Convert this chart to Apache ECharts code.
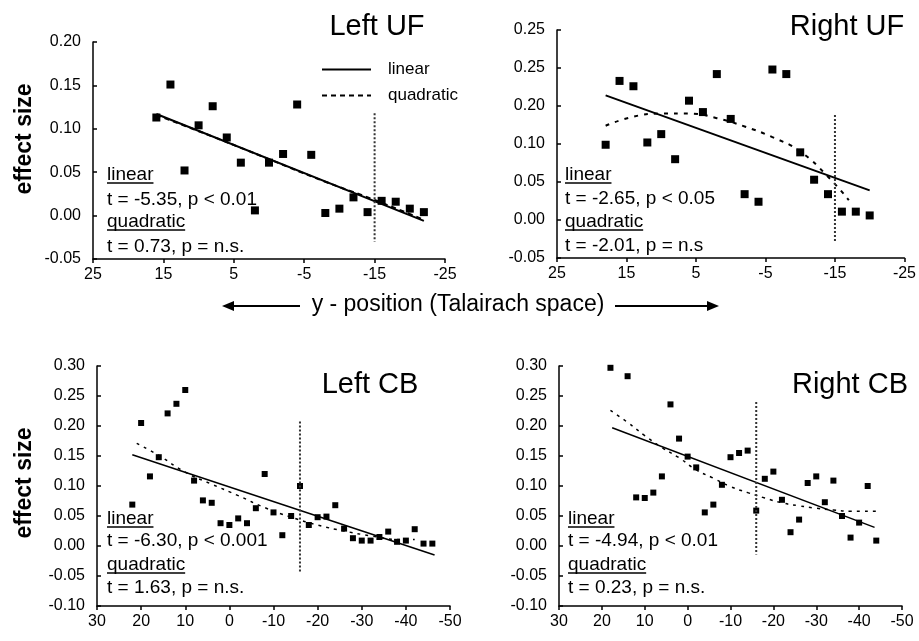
<!DOCTYPE html>
<html lang="en">
<head>
    <meta charset="UTF-8">
    <title>effect size vs y-position</title>
    <script src="https://cdn.jsdelivr.net/npm/echarts@6/dist/echarts.min.js"></script>
    <style type="text/css">
        html, body { margin: 0; padding: 0; background: #fff; }
        #chart { width: 919px; height: 641px; }
    </style>
</head>
<body>
<div id="chart"></div>
<script type="text/javascript">
    // ---- data ----
    var panelTitles = ['Left UF', 'Right UF', 'Left CB', 'Right CB'];

    // Left UF
    var leftUfX = [16, 14, 12, 10, 8, 6, 4, 2, 0, -2, -4, -6, -8, -10, -12, -14, -16, -18, -20, -22];
    var leftUfY = [0.113, 0.151, 0.052, 0.104, 0.126, 0.090, 0.061, 0.006, 0.061, 0.071, 0.128, 0.070, 0.003, 0.008, 0.021, 0.004, 0.017, 0.016, 0.008, 0.004];
    var leftUfLinX = [16, -22];
    var leftUfLinY = [0.117, -0.006];
    var leftUfQuadX = [16, 8, 0, -8, -15, -22];
    var leftUfQuadY = [0.116, 0.091, 0.065, 0.039, 0.018, -0.005];
    var leftUfCutX = -15;
    var leftUfCutY = [0.118, -0.030];

    // Right UF
    var rightUfX = [18, 16, 14, 12, 10, 8, 6, 4, 2, 0, -2, -4, -6, -8, -10, -12, -14, -16, -18, -20];
    var rightUfY = [0.099, 0.183, 0.176, 0.102, 0.113, 0.080, 0.157, 0.142, 0.192, 0.133, 0.034, 0.024, 0.198, 0.192, 0.089, 0.053, 0.034, 0.011, 0.011, 0.006];
    var rightUfLinX = [18, -20];
    var rightUfLinY = [0.164, 0.039];
    var rightUfQuadX = [18, 14, 10, 6, 2, -2, -6, -10, -14, -17];
    var rightUfQuadY = [0.124, 0.136, 0.140, 0.140, 0.134, 0.123, 0.109, 0.090, 0.057, 0.026];
    var rightUfCutX = -15;
    var rightUfCutY = [0.138, -0.030];

    // Left CB
    var leftCbX = [22, 20, 18, 16, 14, 12, 10, 8, 6, 4, 2, 0, -2, -4, -6, -8, -10, -12, -14, -16, -18, -20, -22, -24, -26, -28, -30, -32, -34, -36, -38, -40, -42, -44, -46];
    var leftCbY = [0.069, 0.205, 0.116, 0.148, 0.221, 0.237, 0.260, 0.109, 0.076, 0.072, 0.038, 0.035, 0.046, 0.038, 0.063, 0.120, 0.056, 0.018, 0.050, 0.100, 0.035, 0.048, 0.049, 0.068, 0.029, 0.013, 0.009, 0.009, 0.015, 0.024, 0.007, 0.009, 0.028, 0.004, 0.004];
    var leftCbLinX = [22, -46.5];
    var leftCbLinY = [0.152, -0.015];
    var leftCbQuadX = [21, 16, 10, 4, -2, -8, -14, -20, -26, -32, -38, -42];
    var leftCbQuadY = [0.171, 0.151, 0.123, 0.103, 0.084, 0.064, 0.048, 0.035, 0.025, 0.017, 0.011, 0.011];
    var leftCbCutX = -16;
    var leftCbCutY = [0.2075, -0.044];

    // Right CB
    var rightCbX = [18, 16, 14, 12, 10, 8, 6, 4, 2, 0, -2, -4, -6, -8, -10, -12, -14, -16, -18, -20, -22, -24, -26, -28, -30, -32, -34, -36, -38, -40, -42, -44];
    var rightCbY = [0.297, 0.301, 0.283, 0.081, 0.080, 0.089, 0.116, 0.236, 0.179, 0.149, 0.131, 0.056, 0.069, 0.102, 0.148, 0.155, 0.159, 0.059, 0.112, 0.124, 0.077, 0.023, 0.044, 0.105, 0.116, 0.073, 0.109, 0.050, 0.014, 0.039, 0.100, 0.009];
    var rightCbLinX = [17.6, -43.6];
    var rightCbLinY = [0.197, 0.031];
    var rightCbQuadX = [18, 14, 10, 6, 2, -2, -6, -10, -14, -18, -22, -26, -30, -34, -38, -44];
    var rightCbQuadY = [0.226, 0.206, 0.184, 0.164, 0.147, 0.127, 0.113, 0.099, 0.089, 0.080, 0.072, 0.067, 0.063, 0.060, 0.058, 0.058];
    var rightCbCutX = -16;
    var rightCbCutY = [0.240, -0.014];

    // tick labels (the Right UF axis is labelled like this in the original)
    var leftUfYLabels = ['-0.05', '0.00', '0.05', '0.10', '0.15', '0.20'];
    var rightUfYLabels = ['-0.05', '0.00', '0.05', '0.10', '0.20', '0.25', '0.25'];
    var cbYLabels = ['-0.10', '-0.05', '0.00', '0.05', '0.10', '0.15', '0.20', '0.25', '0.30'];

    // stats text
    var statsText = [
        ['t = -5.35, p < 0.01', 't = 0.73, p = n.s.'],
        ['t = -2.65, p < 0.05', 't = -2.01, p = n.s'],
        ['t = -6.30, p < 0.001', 't = 1.63, p = n.s.'],
        ['t = -4.94, p < 0.01', 't = 0.23, p = n.s.']
    ];

    // ---- layout ----
    var FONT = "'Liberation Sans', Arial, sans-serif";
    var grids = [
        {left: 93, right: 474, top: 42, bottom: 382},
        {left: 557, right: 9, top: 30, bottom: 383},
        {left: 97, right: 469, top: 366, bottom: 35},
        {left: 559, right: 17, top: 366, bottom: 35}
    ];
    var xRanges = [[-25, 25], [-25, 25], [-50, 30], [-50, 30]];
    var yRanges = [[-0.05, 0.20], [-0.05, 0.25], [-0.10, 0.30], [-0.10, 0.30]];
    var yLabelSets = [leftUfYLabels, rightUfYLabels, cbYLabels, cbYLabels];

    var panels = [
        {x: leftUfX, y: leftUfY, lx: leftUfLinX, ly: leftUfLinY, qx: leftUfQuadX, qy: leftUfQuadY, cx: leftUfCutX, cy: leftUfCutY, size: 8, lw: 2, dash: [5, 4]},
        {x: rightUfX, y: rightUfY, lx: rightUfLinX, ly: rightUfLinY, qx: rightUfQuadX, qy: rightUfQuadY, cx: rightUfCutX, cy: rightUfCutY, size: 8, lw: 2, dash: [4, 6]},
        {x: leftCbX, y: leftCbY, lx: leftCbLinX, ly: leftCbLinY, qx: leftCbQuadX, qy: leftCbQuadY, cx: leftCbCutX, cy: leftCbCutY, size: 6, lw: 1.5, dash: [3, 5]},
        {x: rightCbX, y: rightCbY, lx: rightCbLinX, ly: rightCbLinY, qx: rightCbQuadX, qy: rightCbQuadY, cx: rightCbCutX, cy: rightCbCutY, size: 6, lw: 1.5, dash: [3, 5]}
    ];

    function zip(xs, ys) {
        return xs.map(function (x, i) { return [x, ys[i]]; });
    }

    var xAxes = [], yAxes = [], series = [];
    panels.forEach(function (p, i) {
        xAxes.push({
            type: 'value', gridIndex: i, inverse: true,
            min: xRanges[i][0], max: xRanges[i][1], interval: 10,
            splitLine: {show: false},
            axisLine: {show: true, onZero: false, lineStyle: {color: '#000', width: 1.5}},
            axisTick: {show: true, length: 4, lineStyle: {color: '#000', width: 1.5}},
            axisLabel: {color: '#000', fontSize: 16, fontFamily: FONT, margin: 8}
        });
        var labels = yLabelSets[i];
        yAxes.push({
            type: 'value', gridIndex: i,
            min: yRanges[i][0], max: yRanges[i][1], interval: 0.05,
            splitLine: {show: false},
            axisLine: {show: true, onZero: false, lineStyle: {color: '#000', width: 1.5}},
            axisTick: {show: true, inside: true, length: 4, lineStyle: {color: '#000', width: 1.5}},
            axisLabel: {
                color: '#000', fontSize: 16, fontFamily: FONT, margin: 12,
                formatter: function (v, idx) { return labels[idx]; }
            }
        });
        series.push({
            name: 'linear', type: 'line', xAxisIndex: i, yAxisIndex: i,
            data: zip(p.lx, p.ly), symbol: 'none', silent: true, color: '#000',
            lineStyle: {color: '#000', width: p.lw}
        });
        series.push({
            name: 'quadratic', type: 'line', xAxisIndex: i, yAxisIndex: i,
            data: zip(p.qx, p.qy), symbol: 'none', smooth: true, silent: true, color: '#000',
            lineStyle: {color: '#000', width: p.lw, type: p.dash}
        });
        series.push({
            name: panelTitles[i] + ' cut', type: 'line', xAxisIndex: i, yAxisIndex: i,
            data: zip([p.cx, p.cx], p.cy), symbol: 'none', silent: true,
            lineStyle: {color: '#333', width: 2, type: [2, 2]}
        });
        series.push({
            name: panelTitles[i], type: 'scatter', xAxisIndex: i, yAxisIndex: i,
            data: zip(p.x, p.y), symbol: 'rect', symbolSize: p.size,
            itemStyle: {color: '#000', opacity: 1}
        });
    });

    // text widths for underlines
    var ctx = document.createElement('canvas').getContext('2d');
    function textWidth(str, font) {
        ctx.font = font;
        return ctx.measureText(str).width;
    }

    var ANNO_FONT = '19px ' + FONT;
    var annoPos = [
        {x: 107, y: [175, 200, 222, 247]},
        {x: 565, y: [175, 199, 222, 246]},
        {x: 107, y: [519, 541, 565, 588]},
        {x: 568, y: [519, 541, 565, 588]}
    ];
    var titlePos = [[377, 27], [847, 27], [370, 385], [850, 385]];

    var graphics = [];
    panelTitles.forEach(function (t, i) {
        graphics.push({
            type: 'text', x: titlePos[i][0], y: titlePos[i][1],
            style: {text: t, font: '29px ' + FONT, fill: '#000', align: 'center', verticalAlign: 'middle'}
        });
        var a = annoPos[i];
        var words = ['linear', statsText[i][0], 'quadratic', statsText[i][1]];
        words.forEach(function (w, k) {
            graphics.push({
                type: 'text', x: a.x, y: a.y[k],
                style: {text: w, font: ANNO_FONT, fill: '#000', align: 'left', verticalAlign: 'middle'}
            });
            if (k === 0 || k === 2) {
                var uy = a.y[k] + 8;
                graphics.push({
                    type: 'line',
                    shape: {x1: a.x, y1: uy, x2: a.x + textWidth(w, ANNO_FONT), y2: uy},
                    style: {stroke: '#000', lineWidth: 1.5}
                });
            }
        });
    });

    // effect size labels
    [139, 483].forEach(function (cy) {
        graphics.push({
            type: 'text', x: 25, y: cy, rotation: Math.PI / 2,
            style: {text: 'effect size', font: 'bold 23px ' + FONT, fill: '#000', align: 'center', verticalAlign: 'middle'}
        });
    });

    // middle axis caption with arrows
    graphics.push({
        type: 'text', x: 458, y: 305,
        style: {text: 'y - position (Talairach space)', font: '23px ' + FONT, fill: '#000', align: 'center', verticalAlign: 'middle'}
    });
    graphics.push({type: 'line', shape: {x1: 230, y1: 306, x2: 300, y2: 306}, style: {stroke: '#000', lineWidth: 2}});
    graphics.push({type: 'polygon', shape: {points: [[222, 306], [234, 301], [234, 311]]}, style: {fill: '#000'}});
    graphics.push({type: 'line', shape: {x1: 615, y1: 306, x2: 710, y2: 306}, style: {stroke: '#000', lineWidth: 2}});
    graphics.push({type: 'polygon', shape: {points: [[719, 306], [707, 301], [707, 311]]}, style: {fill: '#000'}});

    var chart = echarts.init(document.getElementById('chart'));
    chart.setOption({
        backgroundColor: '#fff',
        animation: false,
        grid: grids,
        xAxis: xAxes,
        yAxis: yAxes,
        legend: {
            data: ['linear', 'quadratic'],
            orient: 'vertical', left: 321, top: 61,
            itemWidth: 49, itemHeight: 14, itemGap: 9, padding: 0,
            selectedMode: false,
            itemStyle: {opacity: 0},
            textStyle: {color: '#000', fontSize: 17, fontFamily: FONT, padding: [0, 0, 0, 12]}
        },
        series: series,
        graphic: graphics
    });
</script>
</body>
</html>
